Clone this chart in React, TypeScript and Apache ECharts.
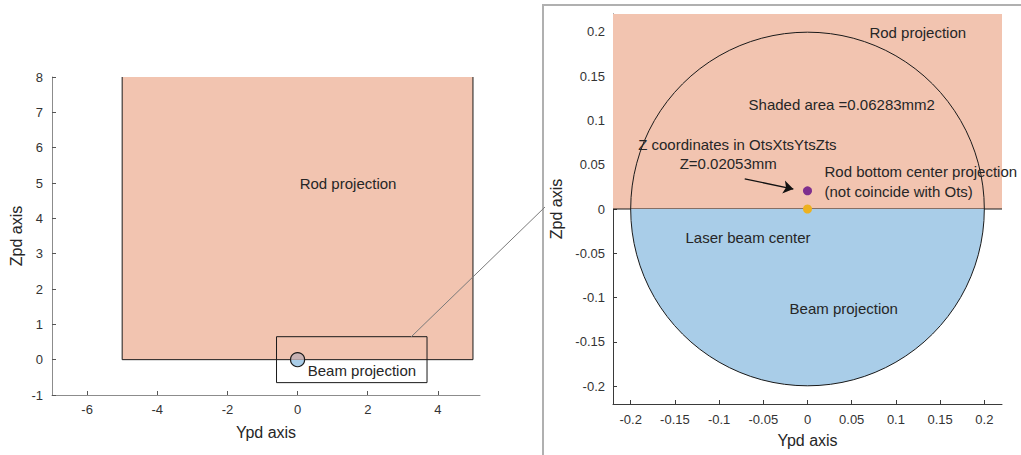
import React, { useEffect, useRef } from "react";
import * as echarts from "echarts";

// ---- data ----
const rodY = [-5, 5];            // rod projection extent on Ypd axis
const rodZ = [0, 8];             // rod projection extent on Zpd axis
const beamCenter = [0, 0];
const beamRadius = 0.2;
const rodBottomCenter = [0, 0.02053];
const leftXTicks = [-6, -4, -2, 0, 2, 4];
const leftYTicks = [-1, 0, 1, 2, 3, 4, 5, 6, 7, 8];
const rightTicks = [-0.2, -0.15, -0.1, -0.05, 0, 0.05, 0.1, 0.15, 0.2];
const zoomBox = [-0.6, -0.65, 3.69, 0.65];
const arrowFrom = [-0.071, 0.034];
const arrowTo = [-0.016, 0.0225];
const leftNotes = [
  { text: "Rod projection", y: 0.06, z: 4.99 },
  { text: "Beam projection", y: 0.29, z: -0.31 },
];
const rightNotes = [
  { text: "Rod projection", y: 0.07, z: 0.199, align: "left" },
  { text: "Shaded area =0.06283mm2", y: -0.0667, z: 0.1175, align: "left" },
  { text: "Z coordinates in OtsXtsYtsZts", y: -0.1915, z: 0.0723, align: "left" },
  { text: "Z=0.02053mm", y: -0.1446, z: 0.0508, align: "left" },
  { text: "Rod bottom center projection", y: 0.0192, z: 0.0418, align: "left" },
  { text: "(not coincide with Ots)", y: 0.0192, z: 0.0203, align: "left" },
  { text: "Laser beam center", y: -0.138, z: -0.0316, align: "left" },
  { text: "Beam projection", y: -0.0203, z: -0.112, align: "left" },
];

const FONT = "'Liberation Sans', Arial, Helvetica, sans-serif";
const TXT = "#262626";
const PINK = "#f2c4b0";
const BLUE = "#a9cde8";

function rodSeries(idx: number) {
  return {
    type: "custom",
    xAxisIndex: idx,
    yAxisIndex: idx,
    clip: true,
    silent: true,
    z: 1,
    data: [[rodY[0], rodZ[0], rodY[1], rodZ[1]]],
    renderItem: (params: any, api: any) => {
      const p0 = api.coord([api.value(0), api.value(1)]);
      const p1 = api.coord([api.value(2), api.value(3)]);
      return {
        type: "group",
        children: [
          {
            type: "polygon",
            shape: { points: [[p0[0], p0[1]], [p1[0], p0[1]], [p1[0], p1[1]], [p0[0], p1[1]]] },
            style: { fill: PINK, stroke: "none" },
          },
          {
            type: "polyline",
            shape: { points: [[p0[0], p1[1]], [p0[0], p0[1]], [p1[0], p0[1]], [p1[0], p1[1]]] },
            style: { fill: "none", stroke: "#1a1a1a", lineWidth: 1 },
          },
        ],
      };
    },
  };
}

function beamSeries(idx: number, upperFill: string | null, lineW: number) {
  return {
    type: "custom",
    xAxisIndex: idx,
    yAxisIndex: idx,
    clip: false,
    silent: true,
    z: 2,
    data: [[beamCenter[0], beamCenter[1], beamRadius]],
    renderItem: (params: any, api: any) => {
      const c = api.coord([api.value(0), api.value(1)]);
      const r = api.size([api.value(2), 0])[0];
      const children: any[] = [
        {
          type: "sector",
          shape: { cx: c[0], cy: c[1], r, startAngle: 0, endAngle: Math.PI, clockwise: true },
          style: { fill: BLUE, stroke: "none" },
        },
      ];
      if (upperFill) {
        children.push({
          type: "sector",
          shape: { cx: c[0], cy: c[1], r, startAngle: Math.PI, endAngle: Math.PI * 2, clockwise: true },
          style: { fill: upperFill, stroke: "none" },
        });
      }
      children.push({
        type: "circle",
        shape: { cx: c[0], cy: c[1], r },
        style: { fill: "none", stroke: "#1a1a1a", lineWidth: lineW },
      });
      return { type: "group", children };
    },
  };
}

function notesSeries(idx: number, notes: any[]) {
  return {
    type: "custom",
    xAxisIndex: idx,
    yAxisIndex: idx,
    clip: false,
    silent: true,
    z: 10,
    data: notes.map((n, i) => [n.y, n.z, i]),
    renderItem: (params: any, api: any) => {
      const p = api.coord([api.value(0), api.value(1)]);
      const n = notes[api.value(2)];
      return {
        type: "text",
        x: p[0],
        y: p[1],
        style: {
          text: n.text,
          fill: TXT,
          font: `15px ${FONT}`,
          align: n.align || "left",
          verticalAlign: "middle",
        },
      };
    },
  };
}

function axisCommon(color: string) {
  return {
    axisLine: { show: true, onZero: false, lineStyle: { color, width: 1 } },
    splitLine: { show: false },
    nameTextStyle: { color: TXT, fontSize: 16, fontFamily: FONT },
  };
}

const fmt = (v: number) => String(+(+v).toFixed(2));

export default function App() {
  const ref = useRef<HTMLDivElement>(null);
  useEffect(() => {
    if (!ref.current) return;
    const chart = echarts.init(ref.current, undefined, { renderer: "svg" });
    const labelStyle = { color: "#333", fontSize: 13, fontFamily: FONT };
    chart.setOption({
      animation: false,
      backgroundColor: "#ffffff",
      grid: [
        { left: 52, top: 77, width: 428, height: 318 },
        { left: 613, top: 14, width: 389, height: 390 },
      ],
      xAxis: [
        {
          gridIndex: 0, type: "value", min: -7, max: 5.2,
          name: "Ypd axis", nameLocation: "middle", nameGap: 29,
          ...axisCommon("#8c8c8c"),
          axisTick: { show: true, inside: true, length: 4, lineStyle: { color: "#555" }, customValues: leftXTicks },
          axisLabel: { ...labelStyle, margin: 8, customValues: leftXTicks, formatter: fmt },
        },
        {
          gridIndex: 1, type: "value", min: -0.22, max: 0.22,
          name: "Ypd axis", nameLocation: "middle", nameGap: 28,
          ...axisCommon("#3a3a3a"),
          axisTick: { show: true, inside: true, length: 4, lineStyle: { color: "#3a3a3a" }, customValues: rightTicks },
          axisLabel: { ...labelStyle, margin: 9, customValues: rightTicks, formatter: fmt },
        },
      ],
      yAxis: [
        {
          gridIndex: 0, type: "value", min: -1, max: 8,
          name: "Zpd axis", nameLocation: "middle", nameGap: 28,
          ...axisCommon("#8c8c8c"),
          axisTick: { show: true, inside: true, length: 4, lineStyle: { color: "#555" }, customValues: leftYTicks },
          axisLabel: { ...labelStyle, margin: 9, customValues: leftYTicks, formatter: fmt },
        },
        {
          gridIndex: 1, type: "value", min: -0.22, max: 0.22,
          name: "Zpd axis", nameLocation: "middle", nameGap: 49,
          ...axisCommon("#3a3a3a"),
          axisTick: { show: true, inside: true, length: 4, lineStyle: { color: "#3a3a3a" }, customValues: rightTicks },
          axisLabel: { ...labelStyle, margin: 8, customValues: rightTicks, formatter: fmt },
        },
      ],
      series: [
        rodSeries(0),
        beamSeries(0, "#c8b2b3", 1.2),
        {
          type: "custom",
          xAxisIndex: 0,
          yAxisIndex: 0,
          silent: true,
          z: 3,
          data: [zoomBox],
          renderItem: (params: any, api: any) => {
            const a = api.coord([api.value(0), api.value(1)]);
            const b = api.coord([api.value(2), api.value(3)]);
            return {
              type: "rect",
              shape: { x: a[0], y: b[1], width: b[0] - a[0], height: a[1] - b[1] },
              style: { fill: "none", stroke: "#1a1a1a", lineWidth: 1 },
            };
          },
        },
        notesSeries(0, leftNotes),
        rodSeries(1),
        beamSeries(1, null, 1),
        {
          type: "lines",
          coordinateSystem: "cartesian2d",
          xAxisIndex: 1,
          yAxisIndex: 1,
          silent: true,
          z: 5,
          symbol: ["none", "arrow"],
          symbolSize: 10,
          lineStyle: { color: "#111", width: 1.3, opacity: 1 },
          data: [{ coords: [arrowFrom, arrowTo] }],
        },
        {
          type: "scatter",
          xAxisIndex: 1,
          yAxisIndex: 1,
          silent: true,
          z: 6,
          symbolSize: 9,
          itemStyle: { color: "#7e2f8e", opacity: 1 },
          data: [rodBottomCenter],
        },
        {
          type: "scatter",
          xAxisIndex: 1,
          yAxisIndex: 1,
          silent: true,
          z: 6,
          symbolSize: 9,
          itemStyle: { color: "#edb120", opacity: 1 },
          data: [beamCenter],
        },
        notesSeries(1, rightNotes),
      ],
      graphic: [
        {
          type: "rect",
          z: 100,
          silent: true,
          shape: { x: 543, y: 5, width: 520, height: 470 },
          style: { fill: "none", stroke: "#b0b0b0", lineWidth: 2 },
        },
        {
          type: "line",
          z: 100,
          silent: true,
          shape: { x1: 411, y1: 337, x2: 545, y2: 207 },
          style: { stroke: "#7a7a7a", lineWidth: 1 },
        },
      ],
    });
    return () => chart.dispose();
  }, []);
  return (
    <div
      ref={ref}
      style={{ position: "fixed", left: 0, top: 0, width: 1021, height: 455, background: "#fff" }}
    />
  );
}
